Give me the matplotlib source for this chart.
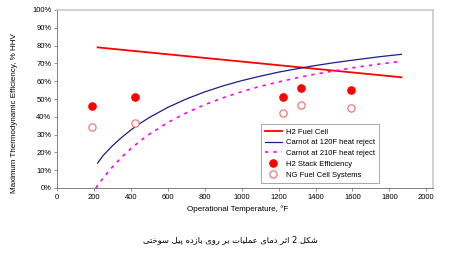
import matplotlib
matplotlib.use("Agg")
import matplotlib.pyplot as plt
from matplotlib.ticker import FuncFormatter

# ---- data ----
h2_fuel_cell_T = [220, 1865]
h2_fuel_cell_eff = [0.79, 0.622]

carnot120_T = [220, 250, 300, 350, 400, 450, 500, 600, 700, 800, 900, 1000, 1100, 1200, 1300,
               1400, 1500, 1600, 1750, 1865]
carnot120_eff = [0.14, 0.183, 0.237, 0.284, 0.326, 0.363, 0.396, 0.453, 0.50, 0.540, 0.574, 0.603,
                 0.628, 0.651, 0.670, 0.688, 0.704, 0.718, 0.738, 0.751]

carnot210_T = [210, 250, 300, 350, 400, 450, 500, 600, 700, 800, 900, 1000, 1100, 1200, 1300,
               1400, 1500, 1600, 1750, 1865]
carnot210_eff = [0.0, 0.056, 0.118, 0.173, 0.221, 0.264, 0.302, 0.368, 0.422, 0.468, 0.507, 0.541,
                 0.571, 0.596, 0.619, 0.640, 0.658, 0.675, 0.697, 0.712]

stack_T = [190, 420, 1225, 1320, 1590]
stack_eff = [0.462, 0.513, 0.513, 0.563, 0.551]

ng_T = [190, 420, 1225, 1320, 1590]
ng_eff = [0.341, 0.363, 0.423, 0.465, 0.451]

x_ticks = [0, 200, 400, 600, 800, 1000, 1200, 1400, 1600, 1800, 2000]
y_ticks = [0.0, 0.1, 0.2, 0.3, 0.4, 0.5, 0.6, 0.7, 0.8, 0.9, 1.0]

legend_labels = ["H2 Fuel Cell", "Carnot at 120F heat reject", "Carnot at 210F heat reject",
                 "H2 Stack Efficiency", "NG Fuel Cell Systems"]
x_label = "Operational Temperature, °F"
y_label = "Maximum Thermodynamic Efficiency, % HHV"
caption = "شکل 2 اثر دمای عملیات بر روی بازده پیل سوختی"

# ---- simple Arabic/Persian shaping (presentation forms) ----
FORMS = {  # iso, fin, ini, med
    'ش': ('\uFEB5', '\uFEB6', '\uFEB7', '\uFEB8'),
    'ک': ('\uFB8E', '\uFB8F', '\uFB90', '\uFB91'),
    'ل': ('\uFEDD', '\uFEDE', '\uFEDF', '\uFEE0'),
    'ا': ('\uFE8D', '\uFE8E', None, None),
    'ث': ('\uFE99', '\uFE9A', '\uFE9B', '\uFE9C'),
    'ر': ('\uFEAD', '\uFEAE', None, None),
    'د': ('\uFEA9', '\uFEAA', None, None),
    'م': ('\uFEE1', '\uFEE2', '\uFEE3', '\uFEE4'),
    'ی': ('\uFBFC', '\uFBFD', '\uFBFE', '\uFBFF'),
    'ع': ('\uFEC9', '\uFECA', '\uFECB', '\uFECC'),
    'ت': ('\uFE95', '\uFE96', '\uFE97', '\uFE98'),
    'ب': ('\uFE8F', '\uFE90', '\uFE91', '\uFE92'),
    'و': ('\uFEED', '\uFEEE', None, None),
    'ز': ('\uFEAF', '\uFEB0', None, None),
    'ه': ('\uFEE9', '\uFEEA', '\uFEEB', '\uFEEC'),
    'پ': ('\uFB56', '\uFB57', '\uFB58', '\uFB59'),
    'س': ('\uFEB1', '\uFEB2', '\uFEB3', '\uFEB4'),
    'خ': ('\uFEA5', '\uFEA6', '\uFEA7', '\uFEA8'),
}


def shape_word(w):
    if not any(c in FORMS for c in w):
        return w
    out = []
    n = len(w)
    for i, c in enumerate(w):
        f = FORMS[c]
        prev_joins = i > 0 and FORMS[w[i - 1]][2] is not None
        can_join_next = f[2] is not None and i < n - 1
        if prev_joins and can_join_next:
            out.append(f[3])
        elif prev_joins:
            out.append(f[1])
        elif can_join_next:
            out.append(f[2])
        else:
            out.append(f[0])
    return "".join(reversed(out))


def visual(text):
    words = text.split(" ")
    return " ".join(shape_word(w) for w in reversed(words))


plt.rcParams['font.family'] = ['Liberation Sans', 'DejaVu Sans']

fig = plt.figure(figsize=(4.5, 2.59), dpi=100)
ax = fig.add_axes([57 / 450, 1 - 188 / 259, (433 - 57) / 450, (188 - 10) / 259])

ax.plot(h2_fuel_cell_T, h2_fuel_cell_eff, color='#ff0000', lw=1.3, label=legend_labels[0])
ax.plot(carnot120_T, carnot120_eff, color='#1c1c8a', lw=0.9, label=legend_labels[1])
ax.plot(carnot210_T, carnot210_eff, color='#ff00ff', lw=1.2, linestyle=(0, (2, 3)), label=legend_labels[2])
ax.plot(stack_T, stack_eff, linestyle='none', marker='o', ms=5.2, color='#ff0000', label=legend_labels[3])
ax.plot(ng_T, ng_eff, linestyle='none', marker='o', ms=5.2, mfc='white', mec='#ec7a7a', mew=0.9,
        label=legend_labels[4])

ax.set_xlim(0, 2036)
ax.set_ylim(0, 1.0)
ax.set_xticks(x_ticks)
ax.set_xticklabels([str(t) for t in x_ticks])
ax.set_yticks(y_ticks)
ax.yaxis.set_major_formatter(FuncFormatter(lambda v, p: f"{v * 100:.0f}%"))
ax.tick_params(labelsize=5.5, length=2, width=0.6, color='#808080', pad=2)

for s in ['left', 'bottom']:
    ax.spines[s].set_color('#808080')
    ax.spines[s].set_linewidth(0.7)
for s in ['top', 'right']:
    ax.spines[s].set_color('#c8c8c8')
    ax.spines[s].set_linewidth(1.2)

ax.set_xlabel(x_label, fontsize=5.8, labelpad=4)
ax.xaxis.set_label_coords((238 - 57) / 376, -0.1)
ax.set_ylabel(y_label, fontsize=5.8, labelpad=4)
ax.yaxis.set_label_coords(-0.105, (188 - 113) / 178)

leg = ax.legend(loc='lower left', bbox_to_anchor=((261 - 57) / 376, (188 - 182.5) / 178),
                fontsize=5.5, frameon=True, fancybox=False, handlelength=2.2,
                borderpad=0.5, labelspacing=0.45, handletextpad=0.6, borderaxespad=0)
leg.get_frame().set_edgecolor('#808080')
leg.get_frame().set_linewidth(0.6)

fig.text(230 / 450, 1 - 240 / 259, visual(caption), ha='center', va='center', fontsize=6,
         family=['DejaVu Sans'])

fig.savefig("out.png", dpi=100)
